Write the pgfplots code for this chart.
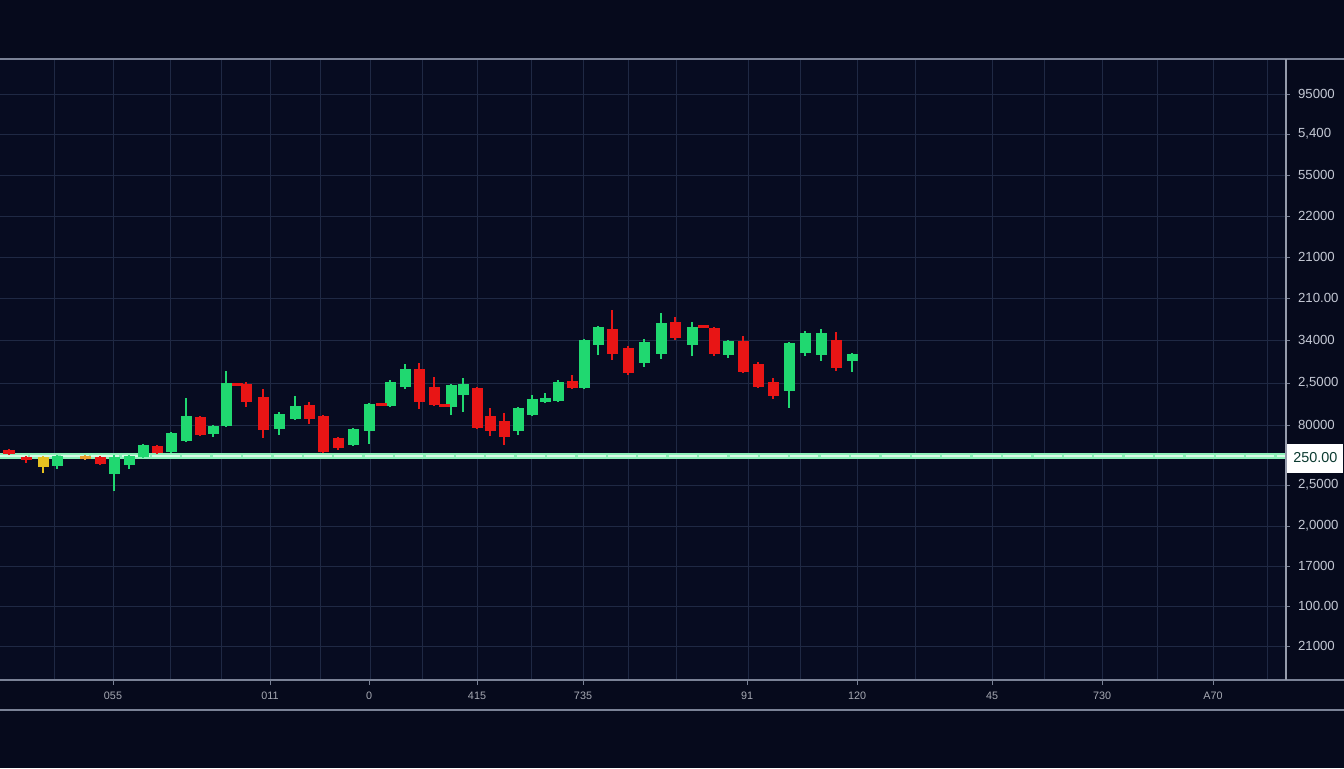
\documentclass[border=0pt]{standalone}
\usepackage{pgfplots}
\pgfplotsset{compat=1.18}
\usepackage{pgfplotstable}
\usepackage{fontspec}
\setmainfont{Liberation Sans}
\definecolor{bgc}{HTML}{060A1C}
\definecolor{plotbg}{HTML}{070C21}
\definecolor{gridc}{HTML}{1F2944}
\definecolor{axc}{HTML}{7A8296}
\definecolor{tickc}{HTML}{C4C8D4}
\definecolor{cgreen}{HTML}{20D870}
\definecolor{cred}{HTML}{E81515}
\definecolor{cyellow}{HTML}{E5C020}
\definecolor{corange}{HTML}{E8A030}
\definecolor{mint}{HTML}{8CF0B8}
\definecolor{boxtxt}{HTML}{0B3A30}

% columns: x, body top, body bottom, wick top, wick bottom (chart units, y grows downward)
\pgfplotstableread{
x t b ht hb
57 456 466 455 469
114 457 474 455 491
129 456 465 455 469
143 445 457 444 458
171 433 452 432 453
186 416 441 398 442
213 426 434 425 437
226 383 426 371 427
279 414 429 412 435
295 406 419 396 420
353 429 445 428 446
369 404 431 403 444
390 382 406 380 407
405 369 387 364 389
451 385 407 384 415
463 384 395 378 412
518 408 431 407 435
532 399 415 395 416
545 398 402 393 403
558 382 401 380 402
584 340 388 339 389
598 327 345 326 355
644 342 363 339 367
661 323 354 313 359
692 327 345 322 356
728 341 355 340 358
789 343 391 342 408
805 333 353 331 356
821 333 355 329 361
852 354 361 353 372
}\greenc

\pgfplotstableread{
x t b ht hb
9 450 454 449 455
26 457 460 456 463
100 457 464 456 465
157 446 453 445 454
200 417 435 416 436
237 383 386 383 386
246 384 402 382 407
263 397 430 389 438
309 405 419 402 424
323 416 452 415 453
338 438 448 437 450
381 403 406 403 406
419 369 402 363 409
434 387 405 377 406
444 404 407 404 407
477 388 428 387 429
490 416 431 408 436
504 421 437 413 445
572 381 388 375 389
612 329 354 310 360
628 348 373 346 375
675 322 338 317 340
703 325 328 325 328
714 328 354 327 356
743 341 372 336 373
758 364 387 362 388
773 382 396 378 399
836 340 368 332 371
}\redc

\pgfplotstableread{
x t b ht hb
43 457 467 456 473
}\yellowc

\pgfplotstableread{
x t b ht hb
85 456 459 455 460
}\orangec

\pgfplotsset{
  wick/.style={draw=none, mark=none,
    error bars/.cd, y dir=both, y explicit, error mark=none,
    error bar style={draw=#1, line width=0.8pt}},
  body/.style={draw=none, mark=none,
    error bars/.cd, y dir=both, y explicit, error mark=none,
    error bar style={draw=#1, line width=5.5pt}},
}

\begin{document}
\begin{tikzpicture}
\fill[bgc] (0,-44pt) rectangle (672pt,340pt);
\begin{axis}[
  scale only axis, width=642.5pt, height=310pt,
  xmin=0, xmax=1285, ymin=60, ymax=680, y dir=reverse,
  clip=false,
  axis background/.style={fill=plotbg},
  axis line style={draw=none},
  xtick={54,113,170,221,270,320,370,422,477,531,583,628,676,748,800,857,915,992,1044,1102,1157,1213,1267},
  xticklabels={},
  xmajorgrids, ymajorgrids,
  grid style={draw=gridc, line width=0.5pt},
  xtick style={draw=none},
  extra x ticks={113,270,369,477,583,747,857,992,1102,1213},
  extra x tick labels={055,011,0,415,735,91,120,45,730,A70},
  extra x tick style={grid=none, xtick style={draw=axc, line width=0.4pt}},
  ytick={94,134,175,216,257,298,340,383,425,485,526,566,606,646},
  yticklabels={95000,{5,400},55000,22000,21000,210.00,34000,{2,5000},80000,{2,5000},{2,0000},17000,100.00,21000},
  yticklabel pos=right, ytick pos=right, xtick pos=bottom,
  ytick style={draw=axc, line width=0.4pt},
  tick align=outside, major tick length=2.5pt,
  yticklabel style={font=\fontsize{6.6}{7}\selectfont, text=tickc, xshift=0.5pt},
  xticklabel style={font=\fontsize{5.4}{6}\selectfont, text=tickc!85!black},
]
% reference line
\addplot[mint, line width=2.6pt] coordinates {(0,456) (1285,456)};
\addplot[white!65!mint, line width=0.8pt, dash pattern=on 14pt off 1.2pt] coordinates {(0,456) (1285,456)};

% wicks
\addplot[wick=cgreen] table[x=x, y expr={(\thisrow{ht}+\thisrow{hb})/2}, y error expr={(\thisrow{hb}-\thisrow{ht})/2}] {\greenc};
\addplot[wick=cred] table[x=x, y expr={(\thisrow{ht}+\thisrow{hb})/2}, y error expr={(\thisrow{hb}-\thisrow{ht})/2}] {\redc};
\addplot[wick=cyellow] table[x=x, y expr={(\thisrow{ht}+\thisrow{hb})/2}, y error expr={(\thisrow{hb}-\thisrow{ht})/2}] {\yellowc};
\addplot[wick=corange] table[x=x, y expr={(\thisrow{ht}+\thisrow{hb})/2}, y error expr={(\thisrow{hb}-\thisrow{ht})/2}] {\orangec};
% bodies
\addplot[body=cgreen] table[x=x, y expr={(\thisrow{t}+\thisrow{b})/2}, y error expr={(\thisrow{b}-\thisrow{t})/2}] {\greenc};
\addplot[body=cred] table[x=x, y expr={(\thisrow{t}+\thisrow{b})/2}, y error expr={(\thisrow{b}-\thisrow{t})/2}] {\redc};
\addplot[body=cyellow] table[x=x, y expr={(\thisrow{t}+\thisrow{b})/2}, y error expr={(\thisrow{b}-\thisrow{t})/2}] {\yellowc};
\addplot[body=corange] table[x=x, y expr={(\thisrow{t}+\thisrow{b})/2}, y error expr={(\thisrow{b}-\thisrow{t})/2}] {\orangec};

% frame lines
\draw[axc, line width=0.6pt] (axis cs:0,59) -- (axis cs:1344,59);
\draw[axc, line width=0.6pt] (axis cs:0,680) -- (axis cs:1344,680);
\draw[axc, line width=0.6pt] (axis cs:0,710) -- (axis cs:1344,710);
\draw[axc!80!white, line width=0.6pt] (axis cs:1286,59) -- (axis cs:1286,680);

\node[fill=white, text=boxtxt, anchor=west, minimum width=28pt, minimum height=14.5pt, inner sep=1pt,
      font=\fontsize{7.2}{8}\selectfont] at (axis cs:1287,458) {250.00};
\end{axis}
\pgfresetboundingbox
\path[use as bounding box] (0,-44pt) rectangle (672pt,340pt);
\end{tikzpicture}
\end{document}
